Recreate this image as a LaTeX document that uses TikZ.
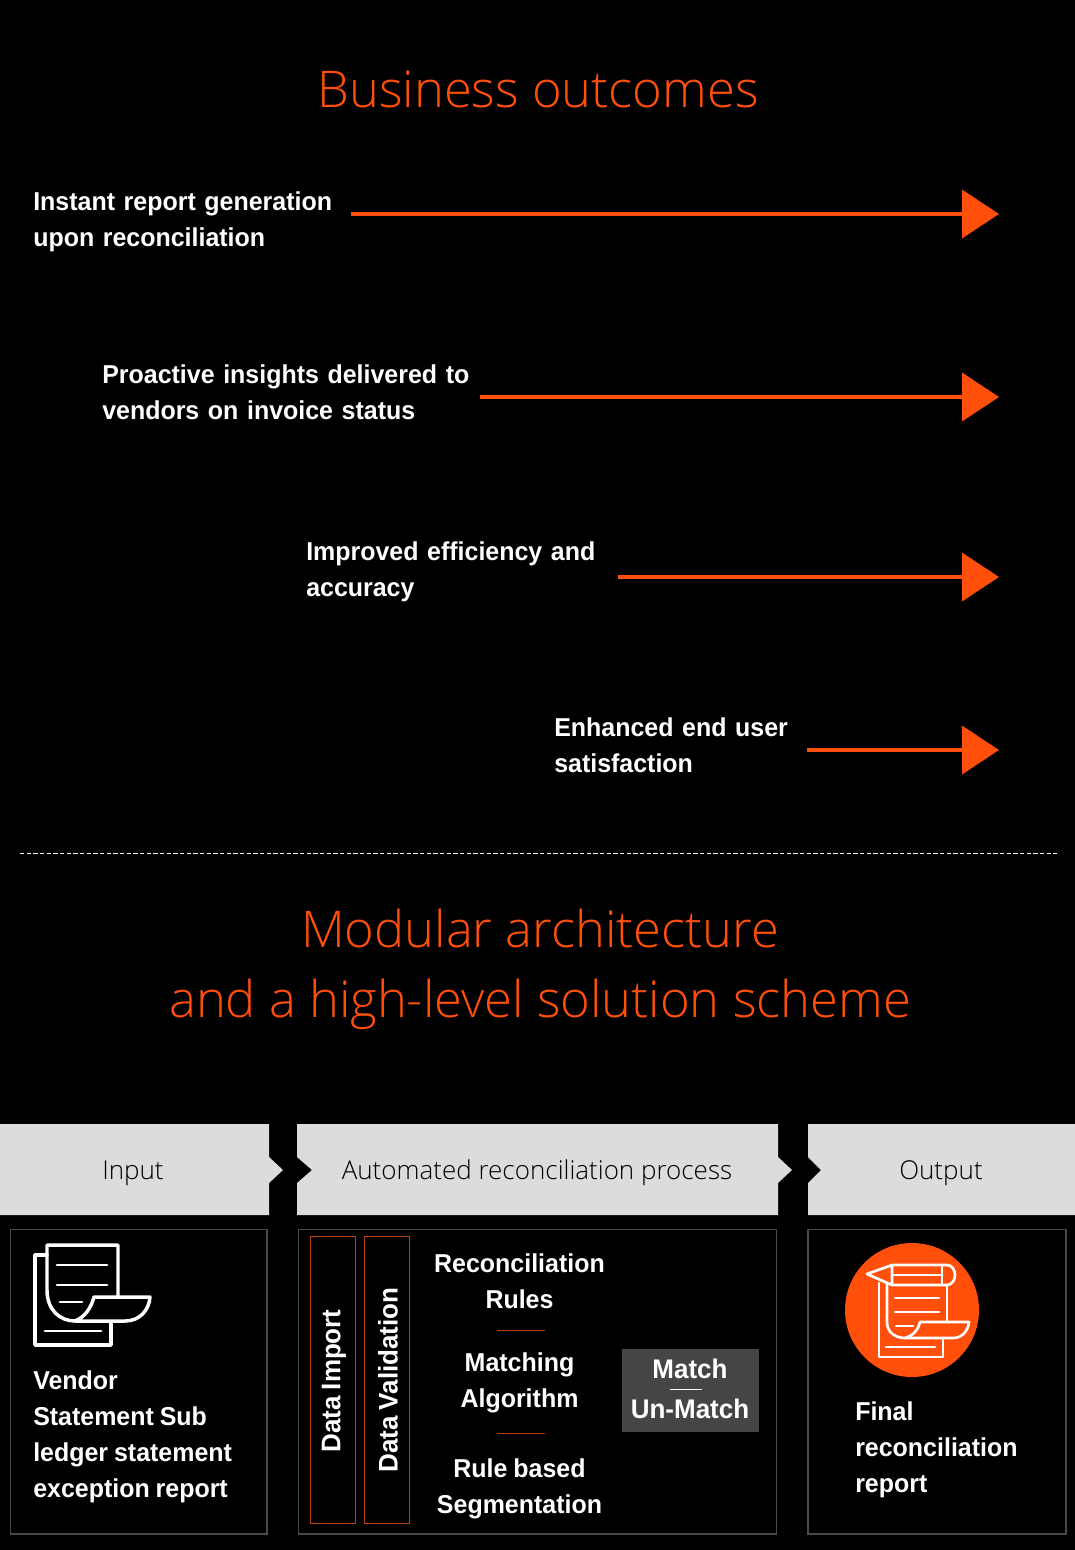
\documentclass[tikz,border=0pt]{standalone}
\usepackage{fontspec}
\usepackage{tikz}
\usetikzlibrary{arrows.meta,positioning,calc}
\setmainfont[FakeStretch=0.965,WordSpace=0.85]{Liberation Sans}
\newfontfamily\MyLight{Open Sans Light}
\definecolor{MyOrange}{HTML}{FF4F0A}
\definecolor{MyRust}{HTML}{B83E0C}
\definecolor{MyHead}{HTML}{DCDCDC}
\definecolor{MyFrame}{HTML}{4A4A4A}
\definecolor{MyMatch}{HTML}{454545}
\tikzset{
	MyBody/.style={white, inner sep=0pt, align=left, font=\fontsize{19.4}{27}\selectfont\bfseries},
	MyMid/.style={MyBody, align=center},
	MyBig/.style={MyBody, align=center, font=\fontsize{20.2}{27}\selectfont\bfseries},
	MyOutcome/.style={MyBody, anchor=west},
	MyTitle/.style={MyOrange, inner sep=0pt, align=center, font=\fontsize{38}{52.5}\selectfont\MyLight},
	MyHeadText/.style={black, inner sep=0pt, font=\fontsize{19.5}{24}\selectfont\MyLight},
	MyArrow/.style={MyOrange, line width=3pt, -{Triangle[length=27.75pt, width=36pt]}},
	MyBox/.style={draw=MyFrame, line width=0.9pt},
	MyBar/.style={draw=MyRust, line width=0.75pt},
	MyIcon/.style={white, line width=2.6pt, line cap=round, line join=round},
	MyThin/.style={white, line width=2.2pt, line cap=round, line join=round},
	MyFine/.style={white, line width=2pt, line cap=round, line join=round},
}
\begin{document}
\begin{tikzpicture}[x=0.75pt, y=-0.75pt]
	\useasboundingbox (0,0) rectangle (1075,1550);
	\fill[black] (0,0) rectangle (1075,1550);
	\node[MyTitle] (titleA) at (538,89) {Business outcomes};
%
	\coordinate (tipA) at (999,214);
	\coordinate (tipB) at (999,397);
	\coordinate (tipC) at (999,577);
	\coordinate (tipD) at (999,750);
	\node[MyOutcome, text width=238pt] (outA) at (33,222) {Instant report generation\\upon reconciliation};
	\node[MyOutcome, text width=283pt] (outB) at (102,392) {Proactive insights delivered to\\vendors on invoice status};
	\node[MyOutcome, text width=233.5pt] (outC) at (306,572) {Improved efficiency and\\accuracy};
	\node[MyOutcome, text width=189.25pt] (outD) at (554,745) {Enhanced end user\\satisfaction};
	\draw[MyArrow] (outA.east |- tipA) -- (tipA);
	\draw[MyArrow] (outB.east |- tipB) -- (tipB);
	\draw[MyArrow] (outC.east |- tipC) -- (tipC);
	\draw[MyArrow] (outD.east |- tipD) -- (tipD);
%
	\coordinate (dashL) at (20,853);
	\coordinate (dashR) at (1057,853);
	\draw[white, line width=0.6pt, dash pattern=on 3.2pt off 1.8pt] (dashL) -- (dashR);
	\node[MyTitle] (titleB) at (540,969) {Modular architecture\\and a high-level solution scheme};
%
	\fill[MyHead] (0,1124) -- (269,1124) -- (269,1157) -- (283,1170) -- (269,1183) -- (269,1215) -- (0,1215) -- cycle;
	\fill[MyHead] (297,1124) -- (778,1124) -- (778,1157) -- (792,1170) -- (778,1183) -- (778,1215) -- (297,1215) -- (297,1183) -- (312,1170) -- (297,1157) -- cycle;
	\fill[MyHead] (808,1124) -- (1075,1124) -- (1075,1215) -- (808,1215) -- (808,1183) -- (821,1170) -- (808,1157) -- cycle;
	\node[MyHeadText] (headA) at (133,1173) {Input};
	\node[MyHeadText] (headB) at (537,1173) {Automated reconciliation process};
	\node[MyHeadText] (headC) at (941,1173) {Output};
%
	\draw[MyBox] (10.5,1229.5) rectangle (267,1534);
	\draw[MyBox] (298.5,1229.5) rectangle (776.5,1534);
	\draw[MyBox] (808,1229.5) rectangle (1066,1534);
%
	\draw[MyBar] (310.5,1236) rectangle (355.5,1523);
	\draw[MyBar] (364.5,1236) rectangle (409,1523);
	\node[MyBig, rotate=90] (dataA) at (334,1381) {Data Import};
	\node[MyBig, rotate=90] (dataB) at (388,1380) {Data Validation};
%
	\node[MyMid] (ruleA) at (519.5,1281) {Reconciliation\\Rules};
	\node[MyMid] (ruleB) at (519.5,1382.5) {Matching\\Algorithm};
	\node[MyMid] (ruleC) at (519.5,1488.5) {Rule based\\Segmentation};
	\coordinate (sepAL) at (497,1330);
	\coordinate (sepAR) at (545,1330);
	\coordinate (sepBL) at (497,1433.5);
	\coordinate (sepBR) at (545,1433.5);
	\draw[MyRust, line width=0.7pt] (sepAL) -- (sepAR);
	\draw[MyRust, line width=0.7pt] (sepBL) -- (sepBR);
%
	\fill[MyMatch] (622,1349) rectangle (759,1432);
	\node[MyBig] (matchA) at (690,1369) {Match};
	\node[MyBig] (matchB) at (690,1409) {Un-Match};
	\coordinate (sepCL) at (670,1389);
	\coordinate (sepCR) at (702,1389);
	\draw[white, line width=0.6pt] (sepCL) -- (sepCR);
%
	\node[MyBody, anchor=west] (inText) at (33,1437) {Vendor\\Statement Sub\\ledger statement\\exception report};
	\node[MyBody, anchor=west] (outText) at (855,1450) {Final\\reconciliation\\report};
%
	% input icon
	\draw[MyIcon] (111,1322) -- (111,1345) -- (35,1345) -- (35,1255) -- (47,1255);
	\draw[MyIcon] (118,1297) -- (118,1245) -- (47,1245) -- (47,1290) .. controls (47,1310) and (60,1321) .. (75,1321) -- (125,1321) .. controls (140,1321) and (149,1310) .. (150,1297) -- (94,1297) .. controls (91,1308) and (85,1317) .. (75,1321);
	\draw[MyThin] (57,1265) -- (107,1265);
	\draw[MyThin] (57,1285) -- (107,1285);
	\draw[MyThin] (60,1302) -- (82,1302);
	\draw[MyThin] (45,1331) -- (101,1331);
%
	% output icon
	\fill[MyOrange] (912,1310) circle (50.25pt);
	\draw[MyFine] (887,1283) -- (887,1322) .. controls (887,1332) and (895,1338) .. (905,1338) -- (953,1338) .. controls (962,1338) and (968,1331) .. (969,1322) -- (920,1322) .. controls (918,1330) and (914,1335) .. (905,1338);
	\draw[MyFine] (947,1322) -- (947,1285);
	\draw[MyFine] (879,1283) -- (879,1357) -- (943,1357) -- (943,1338);
	\draw[MyFine] (892,1283) -- (892,1265) -- (947,1265) .. controls (952,1265) and (955,1270) .. (955,1275) .. controls (955,1280) and (952,1285) .. (947,1285) -- (892,1285) -- (867,1274) -- (892,1265);
	\draw[MyFine] (942,1265) -- (942,1285);
	\draw[MyFine] (892,1275) -- (942,1275);
	\draw[MyFine] (895,1298) -- (939,1298);
	\draw[MyFine] (895,1312) -- (939,1312);
	\draw[MyFine] (896,1326) -- (913,1326);
	\draw[MyFine] (886,1347) -- (935,1347);
\end{tikzpicture}
\end{document}
